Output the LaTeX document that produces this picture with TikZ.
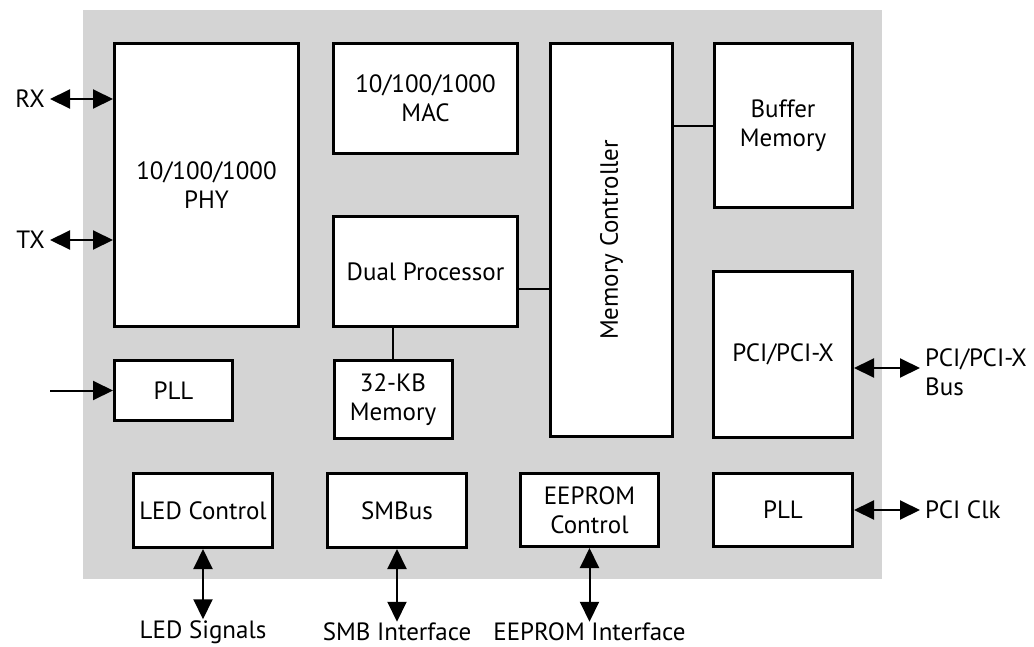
\documentclass[tikz,border=0pt]{standalone}
\usepackage{fontspec}
\setmainfont{PT Sans}
\usepackage{xcolor}
\usepackage{graphicx}
\usepackage{tikz}
\usetikzlibrary{arrows.meta,positioning}

\definecolor{chipgray}{RGB}{212,212,212}

\tikzset{
    block/.style={
        draw,
        line width=3pt,
        fill=white,
        align=center,
        inner sep=2pt
    },
    link/.style={line width=2pt},
    io/.style={
        line width=2pt,
        {Triangle[length=20pt,width=19pt]}-{Triangle[length=20pt,width=19pt]}
    },
    pinlabel/.style={align=left, inner sep=5pt}
}

\begin{document}
\begin{tikzpicture}[x=1pt, y=-1pt, font=\fontsize{25}{29}\selectfont]
    \useasboundingbox (0,0) rectangle (1034,646);

    \fill[chipgray] (83,10) rectangle (882,579);

    \node[block, minimum width=184pt, minimum height=283pt] (phy) at (206.5,185) {10/100/1000\\PHY};
    \node[block, minimum width=184pt, minimum height=110pt] (mac) at (425.5,98.5) {10/100/1000\\MAC};
    \node[block, minimum width=184pt, minimum height=110pt] (dual) at (425.5,271.5) {Dual Processor};
    \node[block, minimum width=118pt, minimum height=78pt] (kbmem) at (393,399.5) {32-KB\\Memory};
    \node[block, minimum width=122pt, minimum height=393pt] (memctl) at (611.5,240) {\rotatebox{90}{Memory Controller}};
    \node[block, minimum width=138pt, minimum height=164pt] (buffer) at (783,125.5) {Buffer\\Memory};
    \node[block, minimum width=139pt, minimum height=166pt] (pci) at (783,354.5) {PCI/PCI-X};
    \node[block, minimum width=118pt, minimum height=60pt] (plla) at (173.5,390.5) {PLL};
    \node[block, minimum width=139pt, minimum height=74pt] (led) at (203,510.5) {LED Control};
    \node[block, minimum width=139pt, minimum height=74pt] (smbus) at (397,510.5) {SMBus};
    \node[block, minimum width=138pt, minimum height=73pt] (eeprom) at (589.5,510) {EEPROM\\Control};
    \node[block, minimum width=139pt, minimum height=73pt] (pllb) at (783,510) {PLL};

    \draw[link] (buffer.west) -- (buffer.west -| memctl.east);
    \coordinate (dualport) at ([yshift=-17.5pt]dual.east);
    \draw[link] (dualport) -- (dualport -| memctl.west);
    \draw[link] (kbmem.north) -- (kbmem.north |- dual.south);

    \node[anchor=east, inner sep=5pt] (rx) at (50,99) {RX};
    \node[anchor=east, inner sep=5pt] (tx) at (50,240) {TX};
    \draw[io] (rx.east) -- (rx.east -| phy.west);
    \draw[io] (tx.east) -- (tx.east -| phy.west);

    \coordinate (clkin) at (50,390.5);
    \draw[line width=2pt, -{Triangle[length=20pt,width=19pt]}] (clkin) -- (plla.west);

    \node[pinlabel, anchor=west] (pcibus) at (920,372) {PCI/PCI-X\\Bus};
    \coordinate (pciport) at ([yshift=-13.5pt]pci.east);
    \draw[io] (pciport) -- (pciport -| pcibus.west);
    \node[pinlabel, anchor=west] (pciclk) at (920,510) {PCI Clk};
    \draw[io] (pllb.east) -- (pciclk.west);

    \node[inner sep=1pt] (ledsig) at (203,632) {LED Signals};
    \node[inner sep=1pt] (smbif) at (397,632) {SMB Interface};
    \node[inner sep=1pt] (eepromif) at (589.5,632) {EEPROM Interface};
    \draw[io] (led.south) -- (ledsig.north);
    \draw[io] (smbus.south) -- (smbif.north);
    \draw[io] (eeprom.south) -- (eepromif.north);
\end{tikzpicture}
\end{document}
